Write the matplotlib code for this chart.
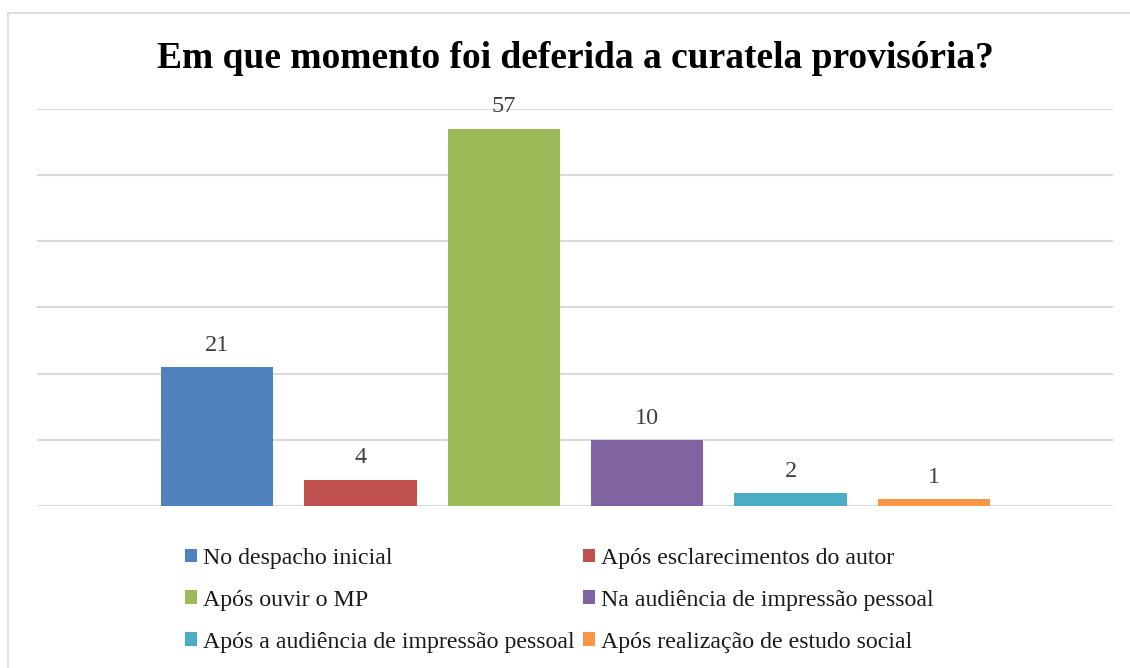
import matplotlib.pyplot as plt
from matplotlib.patches import Patch, Rectangle

# Dados do gráfico
categorias = ["No despacho inicial", "Após esclarecimentos do autor", "Após ouvir o MP",
              "Na audiência de impressão pessoal", "Após a audiência de impressão pessoal",
              "Após realização de estudo social"]
valores = [21, 4, 57, 10, 2, 1]
cores = ["#4F81BD", "#C0504D", "#9BBB59", "#8064A2", "#4BACC6", "#F79646"]
titulo = "Em que momento foi deferida a curatela provisória?"

plt.rcParams['font.family'] = ['Liberation Serif', 'DejaVu Serif']

fig = plt.figure(figsize=(11.3, 6.68), dpi=100)

# moldura cinza do gráfico
fig.patches.append(Rectangle((8 / 1130, -0.1), 1.2, 1 - 13 / 668 + 0.1, transform=fig.transFigure,
                             fill=False, edgecolor="#D9D9D9", linewidth=1.2))

ax = fig.add_axes([37 / 1130, 1 - 506 / 668, (1113 - 37) / 1130, (506 - 108.7) / 668])

x = list(range(len(valores)))
barras = ax.bar(x, valores, width=0.785, color=cores, zorder=3)
ax.bar_label(barras, labels=[str(v) for v in valores], padding=8, fontsize=17.5, color="#404040")

ax.set_xlim(-1.257, 6.25)
ax.set_ylim(0, 60)
ax.set_yticks(range(0, 61, 10))
ax.yaxis.grid(True, color="#D9D9D9", linewidth=1.5, zorder=0)
ax.set_xticks([])
ax.tick_params(left=False, labelleft=False)
for s in ax.spines.values():
    s.set_visible(False)

fig.text(575 / 1130, 1 - 58 / 668, titulo, ha="center", va="center",
         fontsize=27, fontweight="bold", color="black")

# legenda em duas colunas, preenchida por linha
ordem = [0, 2, 4, 1, 3, 5]
handles = [Patch(facecolor=cores[i], edgecolor="none") for i in ordem]
labels = [categorias[i] for i in ordem]
fig.legend(handles, labels, ncol=2, loc="upper left", bbox_to_anchor=(185 / 1130, 1 - 548 / 668),
           frameon=False, fontsize=17.2, handlelength=0.5, handleheight=0.5, handletextpad=0.25,
           columnspacing=0.35, labelspacing=0.87, borderpad=0, borderaxespad=0, labelcolor="#1a1a1a")

fig.savefig("out.png", dpi=100, facecolor="white")
